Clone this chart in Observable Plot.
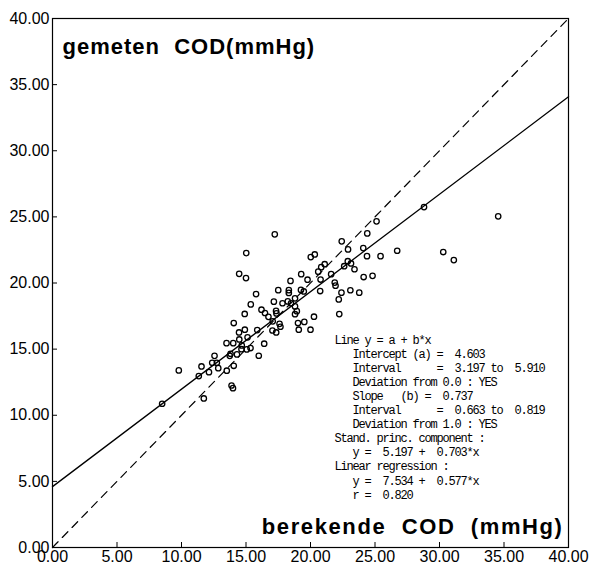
<!DOCTYPE html>
<html>
<head>
<meta charset="utf-8">
<script src="https://cdn.jsdelivr.net/npm/d3@7"></script>
<script src="https://cdn.jsdelivr.net/npm/@observablehq/plot@0.6"></script>
<style>
html, body { margin: 0; padding: 0; background: #fff; }
svg text { white-space: pre; }
</style>
</head>
<body>
<div id="chart"></div>
<script>
// berekende COD (x) and gemeten COD (y), mmHg
const xs = [8.50, 9.79, 11.73, 11.34, 11.55, 12.13, 12.38, 12.56, 12.74, 12.85, 13.51, 13.88, 13.99, 14.05, 13.80, 13.74, 13.49, 14.01, 14.05, 14.30,
  14.48, 14.67, 14.65, 15.06, 15.35, 15.12, 14.91, 14.46, 14.90, 15.37, 15.99, 16.41, 15.87, 16.20, 16.47, 16.74, 17.07, 17.05, 17.34, 17.33,
  17.60, 17.67, 17.16, 17.36, 15.78, 17.50, 17.23, 15.02, 14.47, 15.00, 17.83, 18.24, 18.49, 18.80, 18.80, 18.94, 18.80, 18.45, 18.32, 18.32,
  19.26, 19.48, 19.28, 19.77, 19.03, 19.52, 19.09, 20.00, 20.27, 20.02, 20.33, 20.60, 20.83, 21.10, 20.78, 21.60, 20.75, 21.88, 21.94, 22.40,
  22.19, 22.23, 22.42, 22.91, 22.61, 22.89, 23.14, 23.41, 23.09, 23.78, 24.12, 24.81, 24.09, 24.40, 25.12, 24.38, 25.43, 26.72, 28.80, 34.55,
  30.29, 31.11];
const ys = [10.87, 13.39, 11.27, 12.96, 13.69, 13.26, 13.97, 14.49, 13.97, 13.56, 13.37, 12.25, 12.05, 13.74, 14.65, 14.49, 15.45, 15.45, 16.97, 14.60,
  15.73, 15.28, 15.00, 14.98, 15.08, 15.89, 16.47, 16.26, 17.66, 18.38, 14.50, 15.41, 16.44, 17.98, 17.73, 17.44, 17.10, 16.41, 16.26, 17.89,
  16.91, 16.69, 18.59, 17.70, 19.16, 19.46, 23.68, 22.26, 20.69, 20.37, 18.47, 18.61, 18.47, 18.84, 18.23, 17.87, 17.64, 20.16, 19.46, 19.25,
  19.48, 19.36, 20.67, 20.25, 16.97, 17.06, 16.47, 16.47, 17.45, 21.96, 22.16, 20.86, 21.20, 21.42, 20.26, 20.67, 19.39, 20.03, 19.80, 19.27,
  18.76, 17.65, 23.15, 22.54, 21.27, 21.65, 21.48, 21.04, 19.45, 19.27, 20.45, 20.54, 22.64, 23.75, 24.66, 22.03, 22.03, 22.44, 25.74, 25.04,
  22.34, 21.73];

const intercept = 4.603;
const slope = 0.737;
const lineXs = [0, 40];

const xTicks = [0, 5, 10, 15, 20, 25, 30, 35, 40];
const yTicks = [0, 5, 10, 15, 20, 25, 30, 35, 40];

const yTitle = "gemeten  COD(mmHg)";
const xTitle = "berekende  COD  (mmHg)";

const statsLines = [
  "Line y = a + b*x",
  "   Intercept (a) =  4.603",
  "   Interval      =  3.197 to  5.910",
  "   Deviation from 0.0 : YES",
  "   Slope   (b) =  0.737",
  "   Interval      =  0.663 to  0.819",
  "   Deviation from 1.0 : YES",
  "Stand. princ. component :",
  "   y =  5.197 +  0.703*x",
  "Linear regression :",
  "   y =  7.534 +  0.577*x",
  "   r =  0.820"
];

const points = xs.map((x, i) => ({x, y: ys[i]}));
const fmt = d3.format(".2f");

const chart = Plot.plot({
  width: 589,
  height: 567,
  marginLeft: 52,
  marginRight: 21,
  marginTop: 18,
  marginBottom: 20,
  style: {fontFamily: "'Liberation Sans', Arial, sans-serif", fontSize: "16px", background: "white", color: "black", overflow: "visible"},
  x: {domain: [0, 40]},
  y: {domain: [0, 40]},
  marks: [
    Plot.frame({stroke: "black", strokeWidth: 1.2}),
    Plot.axisX(xTicks, {tickSize: -5, tickPadding: 8, tickFormat: fmt, label: null, fontSize: 16}),
    Plot.axisY(yTicks, {tickSize: -5, tickPadding: 8, tickFormat: fmt, label: null, fontSize: 16}),
    Plot.line(lineXs, {x: d => d, y: d => d, stroke: "black", strokeWidth: 1.2, strokeDasharray: "8,6"}),
    Plot.line(lineXs, {x: d => d, y: d => intercept + slope * d, stroke: "black", strokeWidth: 1.3}),
    Plot.dot(points, {x: "x", y: "y", r: 2.7, stroke: "black", strokeWidth: 1.3, fill: "none"}),
    Plot.text([yTitle], {text: d => d, frameAnchor: "top-left", textAnchor: "start", lineAnchor: "bottom", dx: 10, dy: 35, fontSize: 22, fontWeight: "bold"}),
    Plot.text([xTitle], {text: d => d, frameAnchor: "bottom-right", textAnchor: "end", lineAnchor: "bottom", dx: -5, dy: -14, fontSize: 22, fontWeight: "bold"}),
    Plot.text([statsLines.join("\n")], {text: d => d, frameAnchor: "top-left", textAnchor: "start", lineAnchor: "top", dx: 282, dy: 315, fontSize: 12, lineHeight: 1.175, fontFamily: "'Liberation Mono', 'DejaVu Sans Mono', monospace"})
  ]
});

d3.select(chart).selectAll("g")
  .filter(function() { return this.getAttribute("font-weight") === "bold"; })
  .selectAll("text").style("letter-spacing", function() {
    return this.textContent.startsWith("berekende") ? "1.6px" : "1px";
  });
d3.select(chart).selectAll("g")
  .filter(function() { return (this.getAttribute("font-family") || "").includes("Mono"); })
  .selectAll("text").style("letter-spacing", "-1.2px");

document.getElementById("chart").appendChild(chart);
</script>
</body>
</html>
